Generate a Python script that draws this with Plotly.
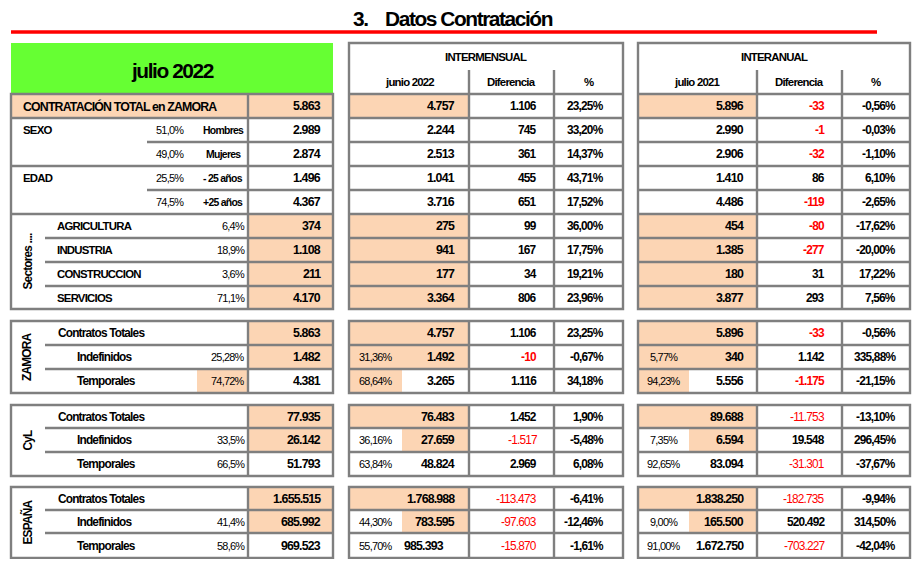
import plotly.graph_objects as go

# ---------------- DATA ----------------
title_text = "3.  Datos Contratación"
month_label = "julio 2022"
prev_month_label = "junio 2022"
prev_year_label = "julio 2021"
block_m_label = "INTERMENSUAL"
block_y_label = "INTERANUAL"
col_diff_label = "Diferencia"
col_pct_label = "%"

total_label = "CONTRATACIÓN TOTAL en ZAMORA"
group_labels = ["SEXO", "EDAD"]
sub_labels = ["Hombres", "Mujeres", "- 25 años", "+25 años"]
sector_title = "Sectores ...."
sector_labels = ["AGRICULTURA", "INDUSTRIA", "CONSTRUCCION", "SERVICIOS"]

# rows: total, Hombres, Mujeres, -25, +25, Agri, Ind, Cons, Serv
jul22 = [5863, 2989, 2874, 1496, 4367, 374, 1108, 211, 4170]
share22 = [None, 51.0, 49.0, 25.5, 74.5, 6.4, 18.9, 3.6, 71.1]
jun22 = [4757, 2244, 2513, 1041, 3716, 275, 941, 177, 3364]
diff_m = [1106, 745, 361, 455, 651, 99, 167, 34, 806]
pct_m = [23.25, 33.20, 14.37, 43.71, 17.52, 36.00, 17.75, 19.21, 23.96]
jul21 = [5896, 2990, 2906, 1410, 4486, 454, 1385, 180, 3877]
diff_y = [-33, -1, -32, 86, -119, -80, -277, 31, 293]
pct_y = [-0.56, -0.03, -1.10, 6.10, -2.65, -17.62, -20.00, 17.22, 7.56]

regions = ["ZAMORA", "CyL", "ESPAÑA"]
contract_labels = ["Contratos Totales", "Indefinidos", "Temporales"]
share_decimals = [2, 1, 1]
c_cur = [[5863, 1482, 4381], [77935, 26142, 51793], [1655515, 685992, 969523]]
c_cur_share = [[None, 25.28, 74.72], [None, 33.5, 66.5], [None, 41.4, 58.6]]
c_prev_m = [[4757, 1492, 3265], [76483, 27659, 48824], [1768988, 783595, 985393]]
c_prev_m_share = [[None, 31.36, 68.64], [None, 36.16, 63.84], [None, 44.30, 55.70]]
c_diff_m = [[1106, -10, 1116], [1452, -1517, 2969], [-113473, -97603, -15870]]
c_pct_m = [[23.25, -0.67, 34.18], [1.90, -5.48, 6.08], [-6.41, -12.46, -1.61]]
c_prev_y = [[5896, 340, 5556], [89688, 6594, 83094], [1838250, 165500, 1672750]]
c_prev_y_share = [[None, 5.77, 94.23], [None, 7.35, 92.65], [None, 9.00, 91.00]]
c_diff_y = [[-33, 1142, -1175], [-11753, 19548, -31301], [-182735, 520492, -703227]]
c_pct_y = [[-0.56, 335.88, -21.15], [-13.10, 296.45, -37.67], [-9.94, 314.50, -42.04]]

# ---------------- STYLE ----------------
W, H = 923, 567
PAD = 8  # default page body margin
FONT = "Liberation Sans, Arial, sans-serif"
GRAY = "#7F7F7F"
PEACH = "#FCD5B4"
GREEN = "#66FF33"
RED = "#FF0000"
LW = 2.4


def fmt_int(v):
    s = f"{abs(v):,}".replace(",", ".")
    return ("-" if v < 0 else "") + s


def fmt_pct(v, d=2):
    return f"{v:.{d}f}".replace(".", ",") + "%"


shapes = []
annots = []


def rect(x0, y0, x1, y1, fill):
    shapes.append(dict(type="rect", xref="x", yref="y", x0=x0, y0=y0, x1=x1, y1=y1,
                       fillcolor=fill, line=dict(width=0), layer="below"))


def box(x0, y0, x1, y1):
    shapes.append(dict(type="rect", xref="x", yref="y", x0=x0, y0=y0, x1=x1, y1=y1,
                       fillcolor="rgba(0,0,0,0)", line=dict(color=GRAY, width=LW)))


def line(x0, y0, x1, y1, color=GRAY, w=LW):
    shapes.append(dict(type="line", xref="x", yref="y", x0=x0, y0=y0, x1=x1, y1=y1,
                       line=dict(color=color, width=w)))


def text(x, y, s, size=12.5, bold=True, anchor="right", color="black", angle=0, pad=1):
    # emulate a narrow face: slightly smaller font with tighter letter spacing
    fs = size * 0.95
    ls = -0.065 * size
    body = f"<span style='letter-spacing:{ls:.2f}px'>{s}</span>"
    if bold:
        body = f"<b>{body}</b>"
    annots.append(dict(x=x, y=y, xref="x", yref="y", text=body, borderpad=pad,
                       showarrow=False, xanchor=anchor, yanchor="middle", textangle=angle,
                       font=dict(family=FONT, size=fs, color=color)))


def diff_text(x, y, v, bold_neg=True):
    neg = v < 0
    text(x, y, fmt_int(v), bold=(bold_neg or not neg), color=(RED if neg else "black"), size=12.5)


# ---------------- GEOMETRY ----------------
LX0, LSPLIT, LX1 = 11, 248, 333
LSUB = 147
LINNER = 45
MX0, MC1, MC2, MX1 = 349, 469, 554, 623
MSUB = 402
RX0, RC1, RC2, RX1 = 638, 757, 842, 910
RSUB = 689
HTOP, HMID, HBOT = 43, 70, 94
row_y = [94, 118, 142, 166, 190, 214, 238, 262, 286, 309]
blocks_y = [[321, 345, 369, 393], [405, 428, 452, 476], [487, 510, 533, 558]]

# title + red rule
text(453, 18, title_text.replace("  ", "\u00a0\u00a0\u00a0\u00a0"), size=22, anchor="center", pad=0)
line(11, 32, 877, 32, color=RED, w=3.5)

# green header
rect(LX0, HTOP, LX1, HBOT, GREEN)
text((LX0 + LX1) / 2, 70, month_label, size=22, anchor="center")

# peach fills in top section
rect(LX0, row_y[0], LX1, row_y[1], PEACH)
rect(MX0, row_y[0], MC1, row_y[1], PEACH)
rect(RX0, row_y[0], RC1, row_y[1], PEACH)
for i in range(5, 9):
    rect(LSPLIT, row_y[i], LX1, row_y[i + 1], PEACH)
    rect(MX0, row_y[i], MC1, row_y[i + 1], PEACH)
    rect(RX0, row_y[i], RC1, row_y[i + 1], PEACH)

# left top grid
box(LX0, row_y[0], LX1, row_y[-1])
line(LSPLIT, row_y[0], LSPLIT, row_y[-1])
for i in (1, 3, 5):
    line(LX0, row_y[i], LX1, row_y[i])
for i in (2, 4):
    line(LSUB, row_y[i], LX1, row_y[i])
for i in (6, 7, 8):
    line(LINNER, row_y[i], LX1, row_y[i])

# middle/right top grid
for (x0, c1, c2, x1) in [(MX0, MC1, MC2, MX1), (RX0, RC1, RC2, RX1)]:
    box(x0, HTOP, x1, row_y[-1])
    line(x0, HBOT, x1, HBOT)
    line(c1, HMID, c1, row_y[-1])
    line(c2, HMID, c2, row_y[-1])
    for i in range(1, 9):
        line(x0, row_y[i], x1, row_y[i])

# headers
text((MX0 + MX1) / 2, 57, block_m_label, size=12, anchor="center")
text((RX0 + RX1) / 2, 57, block_y_label, size=12, anchor="center")
for (x0, c1, c2, x1, lab) in [(MX0, MC1, MC2, MX1, prev_month_label), (RX0, RC1, RC2, RX1, prev_year_label)]:
    text((x0 + c1) / 2, 82, lab, size=12, anchor="center")
    text((c1 + c2) / 2, 82, col_diff_label, size=12, anchor="center")
    text((c2 + x1) / 2, 82, col_pct_label, size=12, anchor="center")

# top section texts
mid = [(row_y[i] + row_y[i + 1]) / 2 for i in range(9)]
text(21, mid[0], total_label, size=13, anchor="left")
text(21, mid[1], group_labels[0], size=12, anchor="left")
text(21, mid[3], group_labels[1], size=12, anchor="left")
for k in range(4):
    text(223, mid[1 + k], sub_labels[k], size=11, anchor="center")
    text(186, mid[1 + k], fmt_pct(share22[1 + k], 1), size=11.5, bold=False)
text(27, (row_y[5] + row_y[9]) / 2, sector_title, size=12.5, anchor="center", angle=-90)
for k in range(4):
    text(55, mid[5 + k], sector_labels[k], size=12, anchor="left")
    text(247, mid[5 + k], fmt_pct(share22[5 + k], 1), size=11.5, bold=False)

for i in range(9):
    text(323, mid[i], fmt_int(jul22[i]), size=13)
    text(457, mid[i], fmt_int(jun22[i]), size=13)
    diff_text(539, mid[i], diff_m[i])
    text(606, mid[i], fmt_pct(pct_m[i]), size=12.5)
    text(746, mid[i], fmt_int(jul21[i]), size=13)
    diff_text(827, mid[i], diff_y[i])
    text(898, mid[i], fmt_pct(pct_y[i]), size=12.5)

# contract blocks
for b, ys in enumerate(blocks_y):
    y0, y1, y2, y3 = ys
    rows = [(y0, y1), (y1, y2), (y2, y3)]
    # peach fills
    rect(LSPLIT, y0, LX1, y1, PEACH)
    rect(MX0, y0, MC1, y1, PEACH)
    rect(RX0, y0, RC1, y1, PEACH)
    rect(LSPLIT, y1, LX1, y2, PEACH)
    if b == 0:
        rect(MX0, y1, MC1, y2, PEACH)
        rect(RX0, y1, RC1, y2, PEACH)
        rect(197, y2, LSPLIT, y3, PEACH)
        rect(MX0, y2, MSUB, y3, PEACH)
        rect(RX0, y2, RSUB, y3, PEACH)
    else:
        rect(MSUB, y1, MC1, y2, PEACH)
        rect(RSUB, y1, RC1, y2, PEACH)
    # grids
    box(LX0, y0, LX1, y3)
    line(LSPLIT, y0, LSPLIT, y3)
    line(LINNER, y1, LX1, y1)
    line(LINNER, y2, LX1, y2)
    for (x0, c1, c2, x1) in [(MX0, MC1, MC2, MX1), (RX0, RC1, RC2, RX1)]:
        box(x0, y0, x1, y3)
        line(c1, y0, c1, y3)
        line(c2, y0, c2, y3)
        line(x0, y1, x1, y1)
        line(x0, y2, x1, y2)
    # texts
    text(27, (y0 + y3) / 2, regions[b], size=12.5, anchor="center", angle=-90)
    d = share_decimals[b]
    for r in range(3):
        ym = (rows[r][0] + rows[r][1]) / 2
        text(56 if r == 0 else 75, ym, contract_labels[r], size=12.5, anchor="left")
        text(323, ym, fmt_int(c_cur[b][r]), size=13)
        text(457 if not (b == 2 and r == 2) else 446, ym, fmt_int(c_prev_m[b][r]), size=13)
        diff_text(539, ym, c_diff_m[b][r], bold_neg=(b == 0))
        text(606, ym, fmt_pct(c_pct_m[b][r]), size=12.5)
        text(746, ym, fmt_int(c_prev_y[b][r]), size=13)
        diff_text(827, ym, c_diff_y[b][r], bold_neg=(b == 0))
        text(898, ym, fmt_pct(c_pct_y[b][r]), size=12.5)
        if c_cur_share[b][r] is not None:
            text(247, ym, fmt_pct(c_cur_share[b][r], d), size=11.5, bold=False)
            text(376, ym, fmt_pct(c_prev_m_share[b][r]), size=11.5, bold=False, anchor="center")
            text(664, ym, fmt_pct(c_prev_y_share[b][r]), size=11.5, bold=False, anchor="center")

fig = go.Figure()
fig.add_trace(go.Scatter(x=[PAD, W], y=[PAD, H], mode="markers", marker=dict(opacity=0),
                         hoverinfo="skip", showlegend=False))
# axis ranges chosen so that one data unit equals one screen pixel of the page
fig.update_layout(
    width=W - 2 * PAD, height=H - 2 * PAD, margin=dict(l=0, r=0, t=0, b=0),
    paper_bgcolor="white", plot_bgcolor="white",
    xaxis=dict(range=[PAD, W - PAD], visible=False, fixedrange=True),
    yaxis=dict(range=[H - PAD, PAD], visible=False, fixedrange=True),
    shapes=shapes, annotations=annots, showlegend=False,
)
fig.write_html("out.html")
